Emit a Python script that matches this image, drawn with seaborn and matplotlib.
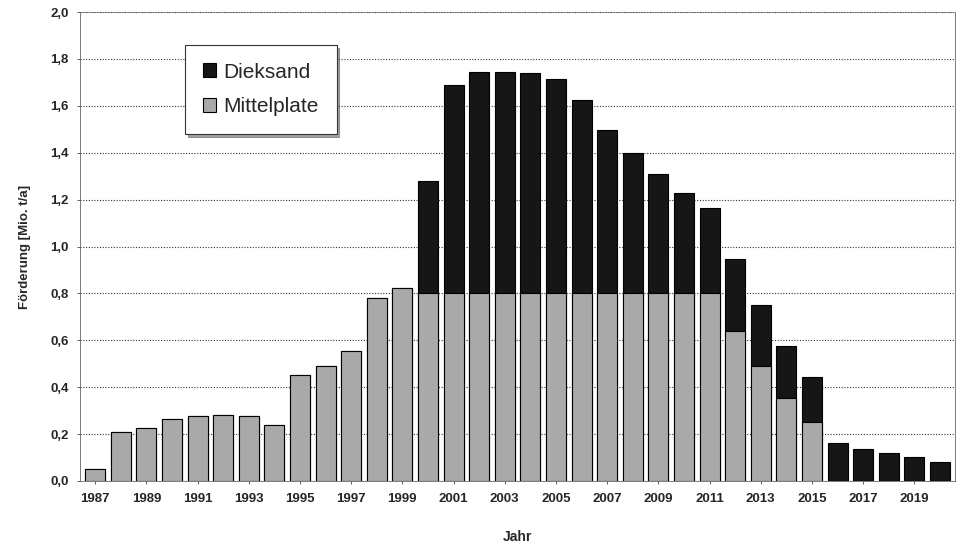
import numpy as np
import pandas as pd
import matplotlib
matplotlib.use("Agg")
import matplotlib.pyplot as plt
import seaborn as sns
from matplotlib.ticker import FuncFormatter

years = list(range(1987, 2021))
mittelplate = [0.05, 0.21, 0.225, 0.265, 0.275, 0.28, 0.275, 0.24, 0.45, 0.49,
               0.555, 0.78, 0.825, 0.80, 0.80, 0.80, 0.80, 0.80, 0.80, 0.80,
               0.80, 0.80, 0.80, 0.80, 0.80, 0.64, 0.49, 0.355, 0.25, 0.0,
               0.0, 0.0, 0.0, 0.0]
dieksand = [0.0, 0.0, 0.0, 0.0, 0.0, 0.0, 0.0, 0.0, 0.0, 0.0,
            0.0, 0.0, 0.0, 0.48, 0.89, 0.945, 0.945, 0.94, 0.915, 0.825,
            0.695, 0.60, 0.51, 0.43, 0.365, 0.305, 0.26, 0.22, 0.195, 0.16,
            0.135, 0.118, 0.10, 0.08]
yticks = np.arange(0, 2.01, 0.2)

df = pd.DataFrame({
    "Jahr": [str(y) for y in years],
    "Mittelplate": mittelplate,
    "Dieksand": dieksand,
})
df["Gesamt"] = df["Mittelplate"] + df["Dieksand"]

sns.set_style("white")
plt.rcParams["font.family"] = ["Liberation Sans", "DejaVu Sans"]

fig = plt.figure(figsize=(9.62, 5.49), dpi=100)
ax = fig.add_axes([0.083, 0.124, 0.910, 0.854])

dark = "#161616"
grey = "#a9a9a9"

# total first (black), Mittelplate drawn over it from the bottom
sns.barplot(data=df, x="Jahr", y="Gesamt", color=dark, width=0.78,
            edgecolor="black", linewidth=0.8, saturation=1, ax=ax,
            label="Dieksand", zorder=3)
sns.barplot(data=df, x="Jahr", y="Mittelplate", color=grey, width=0.78,
            edgecolor="black", linewidth=0.8, saturation=1, ax=ax,
            label="Mittelplate", zorder=4)

ax.set_ylim(0, 2.0)
ax.set_xlim(-0.6, len(years) - 0.4)
ax.set_yticks(yticks)
ax.yaxis.set_major_formatter(FuncFormatter(lambda v, p: f"{v:.1f}".replace(".", ",")))
ax.set_xticks(range(0, len(years), 2))
ax.set_xticklabels([str(y) for y in years[::2]])
ax.tick_params(axis="y", labelsize=9.5, length=2, width=0.6, pad=6,
               left=True, color="#444444")
ax.tick_params(axis="x", labelsize=9.5, length=2, width=0.6, pad=7,
               bottom=True, color="#444444")
for lbl in ax.get_xticklabels() + ax.get_yticklabels():
    lbl.set_fontweight("bold")

ax.yaxis.grid(True, linestyle=(0, (1, 1.5)), color="#333333", linewidth=0.8, zorder=0)
ax.set_axisbelow(True)
for s in ax.spines.values():
    s.set_linewidth(0.6)
    s.set_color("#666666")
ax.spines["top"].set_linestyle((0, (1, 1.5)))

ax.set_xlabel("Jahr", fontsize=10, fontweight="bold", labelpad=18)
ax.set_ylabel("Förderung [Mio. t/a]", fontsize=9.5, fontweight="bold", labelpad=14)

leg = ax.legend(loc="upper left", bbox_to_anchor=(0.12, 0.93), fontsize=15,
                frameon=True, fancybox=False, shadow=True, edgecolor="#333333",
                handlelength=0.65, handleheight=0.65, handletextpad=0.35,
                borderpad=0.85, labelspacing=0.75, borderaxespad=0)
leg.get_frame().set_linewidth(0.8)

fig.savefig("out.png", dpi=100)
plt.close(fig)
